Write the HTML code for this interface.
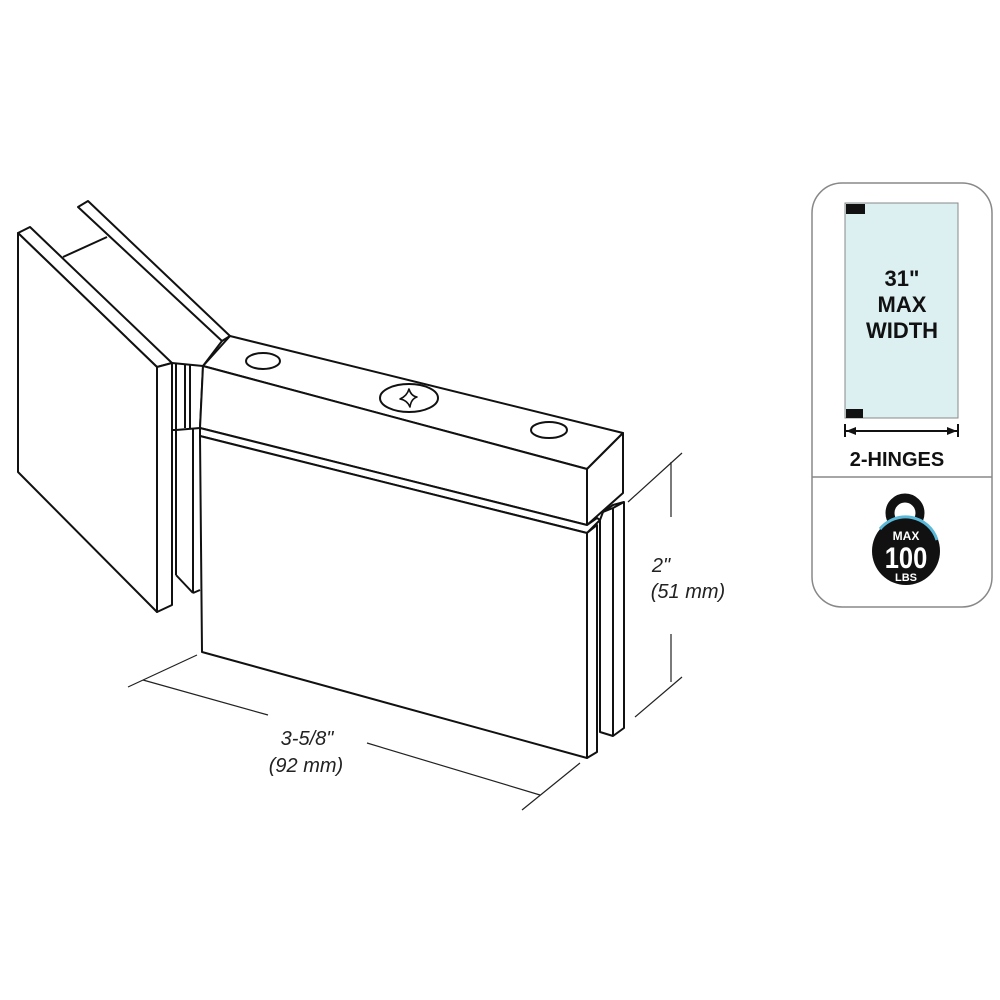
<!DOCTYPE html>
<html><head><style>
body{margin:0;background:#fff}
svg{display:block}
</style></head><body>
<svg width="1000" height="1000" viewBox="0 0 1000 1000" xmlns="http://www.w3.org/2000/svg">
<g fill="none" stroke="#111" stroke-width="2" stroke-linejoin="round">
<polygon points="78,207 88,201 230,336 222,341" fill="#fff"/>
<line x1="63" y1="257" x2="107" y2="237"/>
<line x1="222" y1="341" x2="203" y2="366"/>
<polygon points="18,233 30,227 172,363 157,367" fill="#fff"/>
<polygon points="18,233 157,367 157,612 18,472" fill="#fff"/>
<polygon points="157,367 172,363 172,605 157,612" fill="#fff"/>
<polygon points="172,363 203,366 200,428 176,430 172,430" fill="#fff"/>
<line x1="185" y1="365" x2="185" y2="428"/>
<line x1="190" y1="365" x2="190" y2="428"/>
<line x1="176" y1="364" x2="176" y2="430"/>
<line x1="176" y1="430" x2="176" y2="575"/>
<line x1="176" y1="575" x2="193" y2="593"/>
<line x1="193" y1="428" x2="193" y2="593"/>
<line x1="193" y1="593" x2="200" y2="590"/>
<polygon points="203,366 230,336 623,433 587,469" fill="#fff"/>
<polygon points="203,366 587,469 587,525 200,428" fill="#fff"/>
<polygon points="587,469 623,433 623,493 587,525" fill="#fff"/>
<polygon points="200,428 587,525 597,518 600,520 587,533 200,436" fill="#fff"/>
<polygon points="200,436 587,533 587,758 202,652" fill="#fff"/>
<polygon points="587,533 597,525 597,752 587,758" fill="#fff"/>
<polygon points="603,512 613,505 624,502 624,728 613,736 600,732 600,520" fill="#fff"/>
<line x1="613" y1="508" x2="613" y2="736"/>
<line x1="603" y1="512" x2="613" y2="508"/>
<line x1="613" y1="508" x2="624" y2="502"/>
<ellipse cx="263" cy="361" rx="17" ry="8" fill="#fff"/>
<ellipse cx="409" cy="398" rx="29" ry="14" fill="#fff"/>
<ellipse cx="549" cy="430" rx="18" ry="8" fill="#fff"/>
<path d="M409,389 Q411,396 417,397 Q411,399 410,407 Q407,400 400,399 Q407,396 409,389Z" stroke-width="1.6" fill="#fff"/>
</g>
<g stroke="#222" stroke-width="1.2" fill="none">
<line x1="628" y1="502" x2="682" y2="453"/>
<line x1="635" y1="717" x2="682" y2="677"/>
<line x1="671" y1="462" x2="671" y2="517"/>
<line x1="671" y1="634" x2="671" y2="682"/>
<line x1="128" y1="687" x2="197" y2="655"/>
<line x1="522" y1="810" x2="580" y2="763"/>
<line x1="143" y1="680" x2="268" y2="715"/>
<line x1="367" y1="743" x2="540" y2="795"/>
</g>
<g font-family="Liberation Sans, sans-serif" font-style="italic" font-size="20" fill="#222" text-anchor="middle">
<text x="661" y="572">2"</text>
<text x="688" y="598">(51 mm)</text>
<text x="307" y="745">3-5/8"</text>
<text x="306" y="772">(92 mm)</text>
</g>
<rect x="812" y="183" width="180" height="424" rx="30" fill="#fff" stroke="#888" stroke-width="1.5"/>
<line x1="812" y1="477" x2="992" y2="477" stroke="#888" stroke-width="1.5"/>
<rect x="845" y="203" width="113" height="215" fill="#dcf0f2" stroke="#888" stroke-width="1"/>
<rect x="846" y="204" width="19" height="10" fill="#111"/>
<rect x="846" y="409" width="17" height="9" fill="#111"/>
<g stroke="#111" stroke-width="2">
<line x1="846" y1="431" x2="957" y2="431"/>
<line x1="845" y1="424" x2="845" y2="437"/>
<line x1="958" y1="424" x2="958" y2="437"/>
</g>
<polygon points="846,431 856,427 856,435" fill="#111"/>
<polygon points="957,431 947,427 947,435" fill="#111"/>
<g font-family="Liberation Sans, sans-serif" font-weight="bold" fill="#111" text-anchor="middle">
<text x="902" y="286" font-size="22">31"</text>
<text x="902" y="312" font-size="22">MAX</text>
<text x="902" y="338" font-size="22">WIDTH</text>
<text x="897" y="466" font-size="20">2-HINGES</text>
</g>
<circle cx="905" cy="513" r="15" fill="none" stroke="#111" stroke-width="9"/>
<circle cx="906" cy="551" r="34" fill="#111"/>
<path d="M880,529 A33,33 0 0 1 937,540" fill="none" stroke="#5ab8d8" stroke-width="3"/>
<g font-family="Liberation Sans, sans-serif" fill="#fff" text-anchor="middle" font-weight="bold">
<text x="906" y="540" font-size="12">MAX</text>
<text x="906" y="568" font-size="30" transform="translate(906 0) scale(0.85 1) translate(-906 0)">100</text>
<text x="906" y="581" font-size="11">LBS</text>
</g>
</svg>
</body></html>
